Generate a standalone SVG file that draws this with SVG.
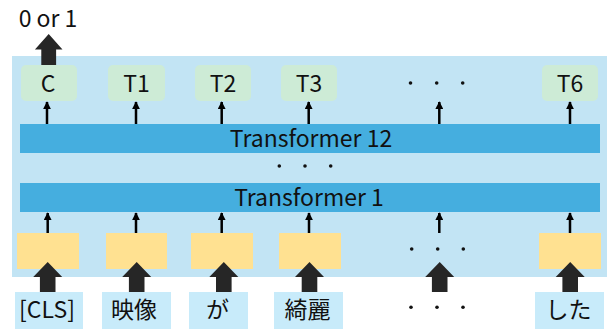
<svg xmlns="http://www.w3.org/2000/svg" width="609" height="329" viewBox="0 0 609 329">
<defs>
<style>
text{font-family:"Noto Sans CJK JP","Noto Sans",sans-serif;fill:#111;text-anchor:middle}
.t{font-size:23px}
.j{font-size:23px}
.panel{fill:#C2E4F4}
.out{fill:#CDEBD6}
.bar{fill:#45AEDF}
.emb{fill:#FFE191}
.tok{fill:#C8EBFA}
.thin{stroke:#000;stroke-width:2.5;fill:none;marker-end:url(#ah)}
.thick{fill:#262626}
.dot{fill:#111}
</style>
<marker id="ah" viewBox="0 0 10 10" refX="9" refY="5" markerWidth="3.2" markerHeight="3.2" orient="auto" markerUnits="strokeWidth">
<path d="M0,0 L10,5 L0,10 z" fill="#000"/>
</marker>
<path id="fat" d="M-7.8,0 L-7.8,-15 L-14.5,-15 L0,-30 L14.5,-15 L7.8,-15 L7.8,0 z"/>
</defs>
<rect class="panel" x="12" y="56" width="595" height="221"/>

<g id="out-c"><rect class="out" x="21" y="65" width="56" height="36" rx="5"/><text class="t" x="48" y="91.5">C</text></g>
<g id="out-t1"><rect class="out" x="108" y="65" width="57" height="36" rx="5"/><text class="t" x="136.5" y="91.5">T1</text></g>
<g id="out-t2"><rect class="out" x="195" y="65" width="56" height="36" rx="5"/><text class="t" x="223" y="91.5">T2</text></g>
<g id="out-t3"><rect class="out" x="281" y="65" width="56" height="36" rx="5"/><text class="t" x="309" y="91.5">T3</text></g>
<g id="out-dots"><circle class="dot" cx="410.5" cy="83" r="1.8"/><circle class="dot" cx="436.7" cy="83" r="1.8"/><circle class="dot" cx="462.7" cy="83" r="1.8"/></g>
<g id="out-t6"><rect class="out" x="542" y="65" width="56" height="36" rx="5"/><text class="t" x="570" y="91.5">T6</text></g>

<g id="transformer12"><rect class="bar" x="20" y="124" width="580" height="29"/><text class="t" x="311" y="146.5">Transformer 12</text></g>
<g id="mid-dots"><circle class="dot" cx="279.3" cy="166" r="1.8"/><circle class="dot" cx="305" cy="166" r="1.8"/><circle class="dot" cx="330.7" cy="166" r="1.8"/></g>
<g id="transformer1"><rect class="bar" x="20" y="183" width="580" height="29"/><text class="t" x="309" y="205.5">Transformer 1</text></g>

<g id="emb-0"><rect class="emb" x="17" y="233" width="62" height="36"/></g>
<g id="emb-1"><rect class="emb" x="106" y="233" width="61" height="36"/></g>
<g id="emb-2"><rect class="emb" x="191" y="233" width="62" height="36"/></g>
<g id="emb-3"><rect class="emb" x="279" y="233" width="62" height="36"/></g>
<g id="emb-dots"><circle class="dot" cx="411.7" cy="249" r="1.8"/><circle class="dot" cx="437.7" cy="249" r="1.8"/><circle class="dot" cx="463.3" cy="249" r="1.8"/></g>
<g id="emb-6"><rect class="emb" x="539" y="233" width="62" height="36"/></g>

<g id="tok-cls"><rect class="tok" x="15" y="292" width="68" height="37"/><text class="j" x="47" y="318">[CLS]</text></g>
<g id="tok-eizo"><rect class="tok" x="102" y="292" width="69" height="37"/><text class="j" x="134" y="318">映像</text></g>
<g id="tok-ga"><rect class="tok" x="189" y="292" width="59" height="37"/><text class="j" x="217.5" y="318">が</text></g>
<g id="tok-kirei"><rect class="tok" x="274" y="292" width="69" height="37"/><text class="j" x="307.5" y="318">綺麗</text></g>
<g id="tok-dots"><circle class="dot" cx="411" cy="307.3" r="1.8"/><circle class="dot" cx="437" cy="307.3" r="1.8"/><circle class="dot" cx="463" cy="307.3" r="1.8"/></g>
<g id="tok-shita"><rect class="tok" x="535" y="292" width="69" height="37"/><text class="j" x="568.5" y="318">した</text></g>

<g id="label-out"><text class="t" x="48" y="26.5">0 or 1</text></g>

<g id="connectors">
<path class="thin" d="M47,124 V102"/>
<path class="thin" d="M136,124 V102"/>
<path class="thin" d="M221.7,124 V102"/>
<path class="thin" d="M308.7,124 V102"/>
<path class="thin" d="M439.3,124 V102"/>
<path class="thin" d="M570,124 V102"/>
<path class="thin" d="M47.7,233 V213"/>
<path class="thin" d="M136,233 V213"/>
<path class="thin" d="M221.7,233 V213"/>
<path class="thin" d="M309,233 V213"/>
<path class="thin" d="M439.3,233 V213"/>
<path class="thin" d="M570,233 V213"/>
<use href="#fat" class="thick" transform="translate(48.7,65) scale(0.95,1.03)"/>
<use href="#fat" class="thick" transform="translate(47.7,292)"/>
<use href="#fat" class="thick" transform="translate(136.7,292)"/>
<use href="#fat" class="thick" transform="translate(223.8,292)"/>
<use href="#fat" class="thick" transform="translate(309.5,292)"/>
<use href="#fat" class="thick" transform="translate(439.7,292)"/>
<use href="#fat" class="thick" transform="translate(570.2,292)"/>
</g>
</svg>
